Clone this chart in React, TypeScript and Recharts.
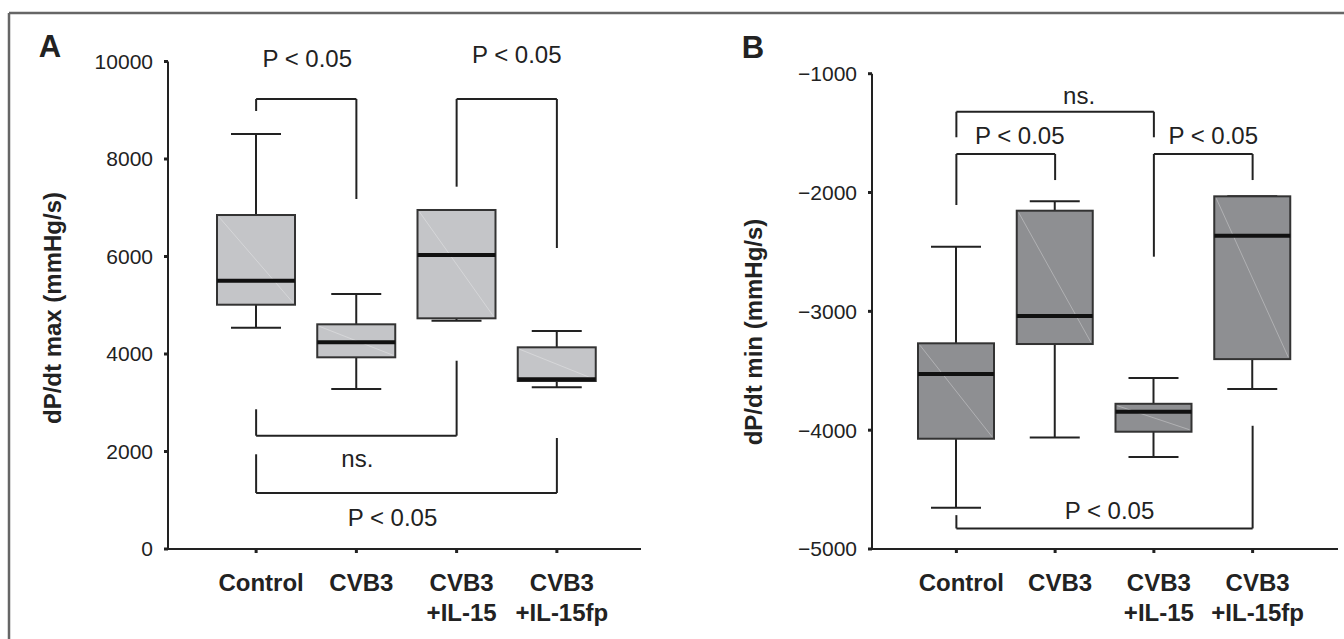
import React from 'react';
import { ComposedChart, Bar, XAxis, YAxis, ReferenceLine } from 'recharts';

// groups on the x axis ("\n" splits the two label lines)
const categories = ['Control', 'CVB3', 'CVB3\n+IL-15', 'CVB3\n+IL-15fp'];

// panel A: dP/dt max (mmHg/s)
const maxA = [8513, 5231, 6954, 4472];
const q3A = [6851, 4609, 6954, 4137];
const medianA = [5504, 4240, 6031, 3481];
const q1A = [5011, 3932, 4732, 3446];
const minA = [4540, 3282, 4683, 3317];
const ticksA = [0, 2000, 4000, 6000, 8000, 10000];

// panel B: dP/dt min (mmHg/s)
const maxB = [-2456, -2074, -3561, -2032];
const q3B = [-3269, -2153, -3778, -2032];
const medianB = [-3528, -3040, -3845, -2364];
const q1B = [-4072, -3275, -4013, -3402];
const minB = [-4653, -4061, -4226, -3654];
const ticksB = [-5000, -4000, -3000, -2000, -1000];

// significance brackets: level of the bar and where each leg ends
const bracketsA = [
  { from: 'Control', to: 'CVB3', y: 9231, fromEnd: 8985, toEnd: 7179, text: 'P < 0.05' },
  { from: 'CVB3\n+IL-15', to: 'CVB3\n+IL-15fp', y: 9231, fromEnd: 7432, toEnd: 6174, text: 'P < 0.05' },
  { from: 'Control', to: 'CVB3\n+IL-15', y: 2324, fromEnd: 2866, toEnd: 3862, text: 'ns.' },
  { from: 'Control', to: 'CVB3\n+IL-15fp', y: 1149, fromEnd: 1943, toEnd: 2277, text: 'P < 0.05' },
];
const bracketsB = [
  { from: 'Control', to: 'CVB3\n+IL-15', y: -1320, fromEnd: -1535, toEnd: -1535, text: 'ns.' },
  { from: 'Control', to: 'CVB3', y: -1676, fromEnd: -2105, toEnd: -1895, text: 'P < 0.05' },
  { from: 'CVB3\n+IL-15', to: 'CVB3\n+IL-15fp', y: -1676, fromEnd: -2540, toEnd: -1895, text: 'P < 0.05' },
  { from: 'Control', to: 'CVB3\n+IL-15fp', y: -4827, fromEnd: -4715, toEnd: -3963, text: 'P < 0.05' },
];
// label nudges in px relative to the middle of the bracket bar
const labelNudgeA = [[1, -40], [10, -44], [1, 23], [-14, 25]];
const labelNudgeB = [[24, -16], [14, -19], [10, -19], [5, -18]];

const FONT = "'Liberation Sans', Arial, Helvetica, sans-serif";
const INK = '#222';

const buildRows = (mx: number[], q3: number[], md: number[], q1: number[], mn: number[]) =>
  categories.map((name, i) => ({ name, max: mx[i], q3: q3[i], median: md[i], q1: q1[i], min: mn[i] }));

const dataA = buildRows(maxA, q3A, medianA, q1A, minA);
const dataB = buildRows(maxB, q3B, medianB, q1B, minB);

const boxShape = (fill: string) => (props: any) => {
  const { x, y, width, height, payload } = props;
  const top = Math.min(y, y + height);
  const h = Math.abs(height);
  const span = payload.max - payload.min || 1;
  const py = (v: number) => top + ((payload.max - v) / span) * h;
  const cx = x + width / 2;
  const cap = 25;
  const yq3 = py(payload.q3);
  const yq1 = py(payload.q1);
  return (
    <g>
      <line x1={cx} x2={cx} y1={py(payload.max)} y2={yq3} stroke={INK} strokeWidth={2} />
      <line x1={cx} x2={cx} y1={yq1} y2={py(payload.min)} stroke={INK} strokeWidth={2} />
      <line x1={cx - cap} x2={cx + cap} y1={py(payload.max)} y2={py(payload.max)} stroke={INK} strokeWidth={2} />
      <line x1={cx - cap} x2={cx + cap} y1={py(payload.min)} y2={py(payload.min)} stroke={INK} strokeWidth={2} />
      <rect x={x} y={yq3} width={width} height={yq1 - yq3} fill={fill} stroke="#333" strokeWidth={2} />
      <line x1={x + 2} y1={yq3 + 2} x2={x + width - 2} y2={yq1 - 2} stroke="#fff" strokeOpacity={0.3} strokeWidth={1} />
      <line x1={x} x2={x + width} y1={py(payload.median)} y2={py(payload.median)} stroke="#111" strokeWidth={4} />
    </g>
  );
};

const CategoryTick = (props: any) => {
  const { x, y, payload } = props;
  const lines = String(payload.value).split('\n');
  return (
    <text x={x + 5} y={y} textAnchor="middle" fontFamily={FONT} fontSize={24} fontWeight="bold" fill={INK}>
      {lines.map((l, i) => (
        <tspan key={i} x={x + 5} dy={i === 0 ? 34 : 30}>{l}</tspan>
      ))}
    </text>
  );
};

const bracketLabel = (text: string, dx: number, dy: number) => (p: any) => {
  const vb = p.viewBox || {};
  return (
    <text
      x={vb.x + (vb.width || 0) / 2 + dx}
      y={vb.y + dy}
      textAnchor="middle"
      dominantBaseline="central"
      fontFamily={FONT}
      fontSize={24}
      fill={INK}
    >
      {text}
    </text>
  );
};

const renderBrackets = (list: any[], nudges: number[][], prefix: string) =>
  list.flatMap((b, i) => [
    <ReferenceLine
      key={`${prefix}h${i}`}
      segment={[{ x: b.from, y: b.y }, { x: b.to, y: b.y }]}
      stroke={INK}
      strokeWidth={2}
      label={bracketLabel(b.text, nudges[i][0], nudges[i][1])}
    />,
    <ReferenceLine key={`${prefix}l${i}`} segment={[{ x: b.from, y: b.y }, { x: b.from, y: b.fromEnd }]} stroke={INK} strokeWidth={2} />,
    <ReferenceLine key={`${prefix}r${i}`} segment={[{ x: b.to, y: b.y }, { x: b.to, y: b.toEnd }]} stroke={INK} strokeWidth={2} />,
  ]);

const axisTitle = (text: string, cx: number, cy: number) => () => (
  <text
    x={cx}
    y={cy}
    transform={`rotate(-90, ${cx}, ${cy})`}
    textAnchor="middle"
    dominantBaseline="central"
    fontFamily={FONT}
    fontSize={24}
    fontWeight="bold"
    fill={INK}
  >
    {text}
  </text>
);

export default function App() {
  const tickStyle = { fontFamily: FONT, fontSize: 21, fill: INK };
  return (
    <div style={{ position: 'absolute', left: 0, top: 0, width: 1344, height: 639, background: '#fff', overflow: 'hidden' }}>
      <svg width={1344} height={639} style={{ position: 'absolute', left: 0, top: 0 }}>
        <line x1={9} y1={13} x2={1344} y2={13} stroke="#666" strokeWidth={2.5} />
        <line x1={9} y1={13} x2={9} y2={639} stroke="#666" strokeWidth={2.5} />
        <text x={50} y={57} textAnchor="middle" fontFamily={FONT} fontSize={31} fontWeight="bold" fill={INK}>A</text>
        <text x={753} y={58} textAnchor="middle" fontFamily={FONT} fontSize={31} fontWeight="bold" fill={INK}>B</text>
      </svg>

      <div style={{ position: 'absolute', left: 0, top: 0 }}>
        <ComposedChart width={670} height={639} data={dataA} margin={{ top: 61.5, right: 29, left: 108, bottom: 10 }}>
          <XAxis
            dataKey="name"
            height={80}
            padding={{ left: 38, right: 34 }}
            tick={<CategoryTick />}
            tickSize={4}
            tickMargin={4}
            interval={0}
            axisLine={{ stroke: INK, strokeWidth: 2 }}
            tickLine={{ stroke: INK, strokeWidth: 3 }}
          />
          <YAxis
            width={60}
            domain={[0, 10000]}
            ticks={ticksA}
            interval={0}
            tick={tickStyle}
            tickSize={4}
            tickMargin={11}
            axisLine={{ stroke: INK, strokeWidth: 2 }}
            tickLine={{ stroke: INK, strokeWidth: 3 }}
            label={axisTitle('dP/dt max (mmHg/s)', 52, 308)}
          />
          <Bar
            dataKey={(d: any) => [d.min, d.max]}
            barSize={78}
            shape={boxShape('#c4c5c8')}
            isAnimationActive={false}
          />
          {renderBrackets(bracketsA, labelNudgeA, 'a')}
        </ComposedChart>
      </div>

      <div style={{ position: 'absolute', left: 670, top: 0 }}>
        <ComposedChart width={674} height={639} data={dataB} margin={{ top: 73.7, right: 6, left: 142, bottom: 10 }}>
          <XAxis
            dataKey="name"
            height={80}
            padding={{ left: 35, right: 36 }}
            tick={<CategoryTick />}
            tickSize={4}
            tickMargin={4}
            interval={0}
            axisLine={{ stroke: INK, strokeWidth: 2 }}
            tickLine={{ stroke: INK, strokeWidth: 3 }}
          />
          <YAxis
            width={60}
            domain={[-5000, -1000]}
            ticks={ticksB}
            interval={0}
            tick={tickStyle}
            tickSize={4}
            tickMargin={11}
            tickFormatter={(v: number) => String(v).replace('-', '\u2212')}
            axisLine={{ stroke: INK, strokeWidth: 2 }}
            tickLine={{ stroke: INK, strokeWidth: 3 }}
            label={axisTitle('dP/dt min (mmHg/s)', 83, 332)}
          />
          <Bar
            dataKey={(d: any) => [d.min, d.max]}
            barSize={76}
            shape={boxShape('#8e8f92')}
            isAnimationActive={false}
          />
          {renderBrackets(bracketsB, labelNudgeB, 'b')}
        </ComposedChart>
      </div>
    </div>
  );
}
